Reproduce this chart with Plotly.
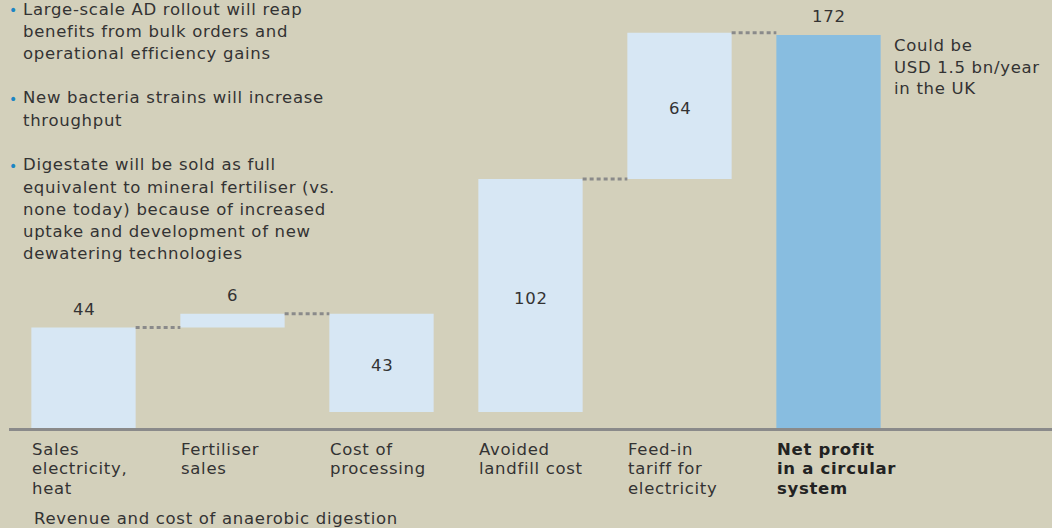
import plotly.graph_objects as go

# --- data ---
categories = [
    ["Sales", "electricity,", "heat"],
    ["Fertiliser", "sales"],
    ["Cost of", "processing"],
    ["Avoided", "landfill cost"],
    ["Feed-in", "tariff for", "electricity"],
    ["Net profit", "in a circular", "system"],
]
steps = [44, 6, -43, 102, 64]
net_profit = 172
labels = ["44", "6", "43", "102", "64", "172"]
connect = [True, True, False, True, True]

bullets = [
    ["Large-scale AD rollout will reap", "benefits from bulk orders and",
     "operational efficiency gains"],
    ["New bacteria strains will increase", "throughput"],
    ["Digestate will be sold as full", "equivalent to mineral fertiliser (vs.",
     "none today) because of increased", "uptake and development of new",
     "dewatering technologies"],
]
side_note = ["Could be", "USD 1.5 bn/year", "in the UK"]
footer = "Revenue and cost of anaerobic digestion"

BG = "#d3d0bb"
LIGHT = "#d7e7f4"
DARK = "#88bde0"
TEXT = "#333333"
GREY = "#8a8a8a"
FONT = "DejaVu Sans"
SIZE = 16.5
SPACING = "0.7px"

W, H = 1052, 528
ML, MR, MT, MB = 9, 0, 0, 100
PW, PH = W - ML - MR, H - MT - MB


def px(x, y):
    """pixel -> paper coords"""
    return (x - ML) / PW, (H - MB - y) / PH


def wide(s):
    return f'<span style="letter-spacing:{SPACING}">{s}</span>'


def font(size=SIZE, color=TEXT):
    return dict(family=FONT, size=size, color=color)


# cumulative levels
bases, ends = [], []
level = 0
for v in steps:
    bases.append(level)
    level += v
    ends.append(level)

xs = list(range(len(categories)))
bar_base = bases + [0]
bar_y = steps + [net_profit]
bar_col = [LIGHT] * len(steps) + [DARK]
bar_top = [max(b, b + v) for b, v in zip(bar_base, bar_y)]
bar_mid = [b + v / 2 for b, v in zip(bar_base, bar_y)]
inside = [False, False, True, True, True, False]

fig = go.Figure()
fig.add_trace(go.Bar(
    x=xs, y=bar_y, base=bar_base, width=0.7,
    marker=dict(color=bar_col, line=dict(width=0)),
    hoverinfo="skip", showlegend=False,
))

# connectors
cx, cy = [], []
for i, ok in enumerate(connect):
    if not ok:
        continue
    cx += [i + 0.35, i + 0.65, None]
    cy += [ends[i], ends[i], None]
fig.add_trace(go.Scatter(
    x=cx, y=cy, mode="lines",
    line=dict(color=GREY, width=3, dash="4px,3px"),
    hoverinfo="skip", showlegend=False,
))

ann = []
for i, (lab, ins) in enumerate(zip(labels, inside)):
    if ins:
        ann.append(dict(x=i, y=bar_mid[i], xref="x", yref="y", text=wide(lab),
                        showarrow=False, yanchor="middle", yshift=-3, font=font()))
    else:
        ann.append(dict(x=i, y=bar_top[i], xref="x", yref="y", text=wide(lab),
                        showarrow=False, yanchor="middle", yshift=18, font=font()))


def add_lines(x, xref, y0, step, lines, size=SIZE, color=TEXT, bold=False):
    for k, line in enumerate(lines):
        t = f"<b>{line}</b>" if bold else line
        _, yp = px(0, y0 + k * step)
        ann.append(dict(x=x, y=yp, xref=xref, yref="paper", text=wide(t),
                        showarrow=False, xanchor="left", yanchor="middle",
                        font=font(size, color)))


# category labels
for i, cat in enumerate(categories):
    last = i == len(categories) - 1
    add_lines(i - 0.36, "x", 449, 19.6, cat, bold=last,
              color="#222222" if last else TEXT)

# bullet list
bullet_first = [9, 98, 165]
for lines, y0 in zip(bullets, bullet_first):
    xp, _ = px(21, 0)
    add_lines(xp, "paper", y0, 22.2, lines)
    bx, by = px(13, y0 + 1)
    ann.append(dict(x=bx, y=by, xref="paper", yref="paper", text="•",
                    showarrow=False, xanchor="center", yanchor="middle",
                    font=font(14, "#1a86c4")))

xp, _ = px(892, 0)
add_lines(xp, "paper", 46, 21, side_note)

xp, _ = px(32, 0)
add_lines(xp, "paper", 518, 20, [footer])

fig.update_layout(
    width=W, height=H,
    margin=dict(l=ML, r=MR, t=MT, b=MB),
    paper_bgcolor=BG, plot_bgcolor=BG,
    barmode="overlay",
    annotations=ann,
    xaxis=dict(range=[-0.5, 6.5], showgrid=False, zeroline=False,
               showticklabels=False, ticks="", showline=True,
               linecolor=GREY, linewidth=3, fixedrange=True),
    yaxis=dict(range=[0, 187.3], showgrid=False, zeroline=False,
               showticklabels=False, ticks="", showline=False, fixedrange=True),
)

fig.write_html("out.html", config={"displayModeBar": False},
               post_script="document.body.style.margin='0';")
